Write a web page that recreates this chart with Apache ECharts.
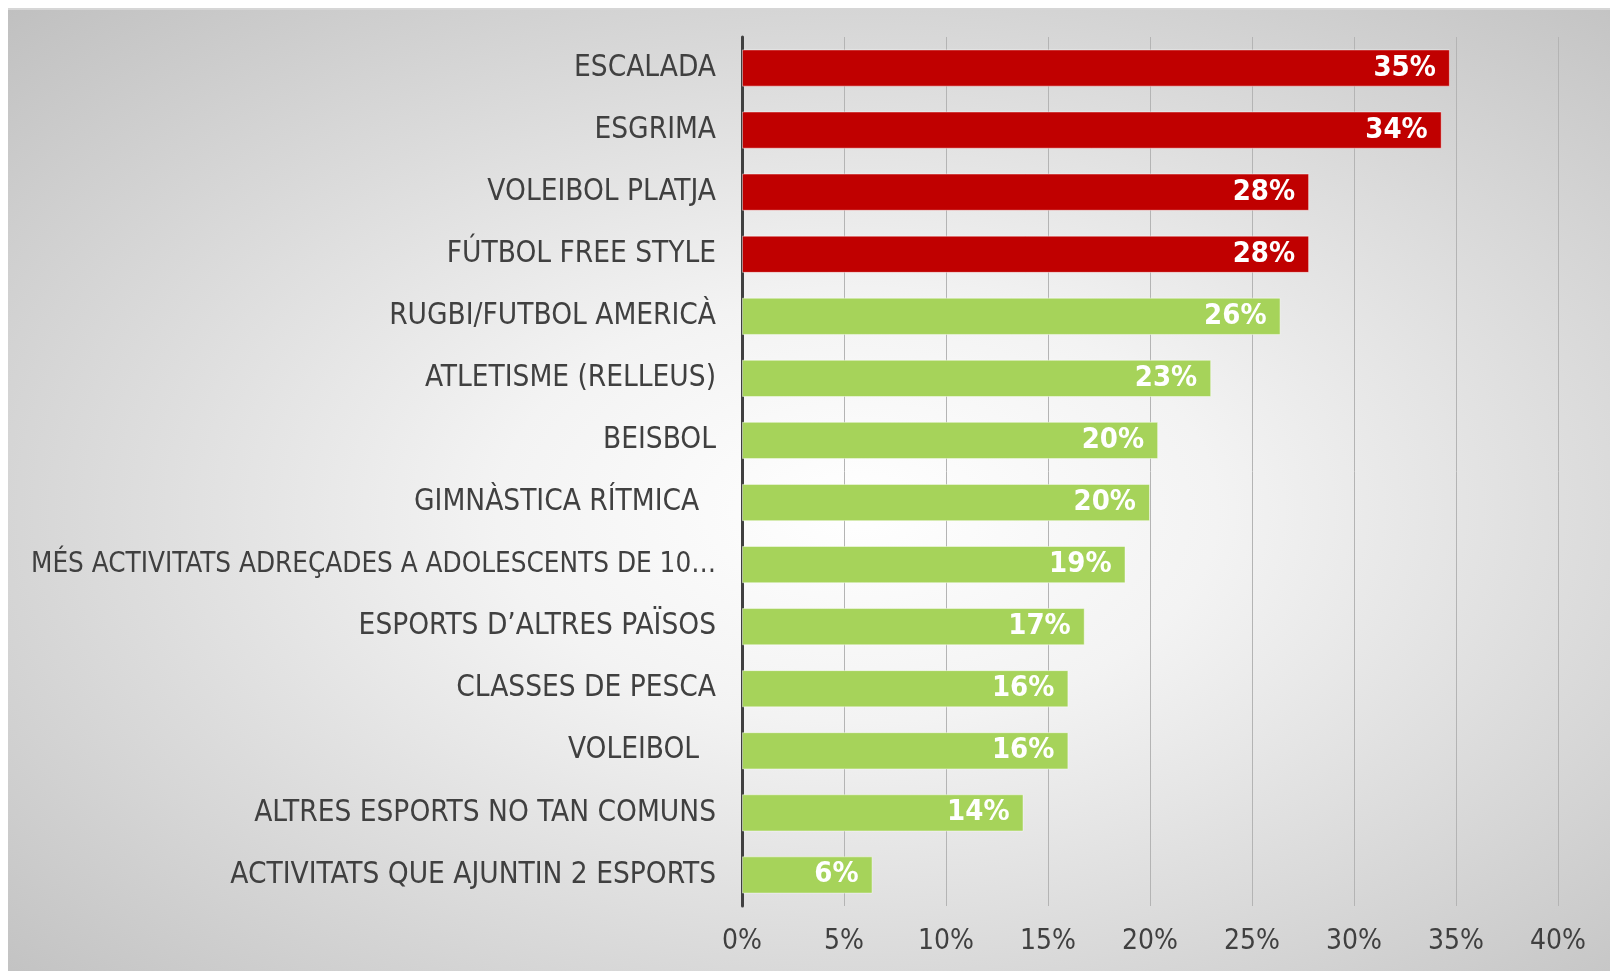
<!DOCTYPE html>
<html>
<head>
<meta charset="utf-8">
<script src="https://cdn.jsdelivr.net/npm/echarts@6/dist/echarts.min.js"></script>
<style>
    html, body { margin: 0; padding: 0; background: #fff; }
    #chart {
        position: absolute;
        left: 8px;
        top: 8px;
        width: 1602px;
        height: 963px;
        border-top: 2px solid #d6d6d6;
        box-sizing: border-box;
        background: radial-gradient(ellipse at 53% 52%, #ffffff 0%, #f3f3f3 30%, #c0c0c0 100%);
    }
</style>
</head>
<body>
<div id="chart"></div>
<script>
const categories = [
    'ESCALADA',
    'ESGRIMA',
    'VOLEIBOL PLATJA',
    'FÚTBOL FREE STYLE',
    'RUGBI/FUTBOL AMERICÀ',
    'ATLETISME (RELLEUS)',
    'BEISBOL',
    'GIMNÀSTICA RÍTMICA  ',
    'MÉS ACTIVITATS ADREÇADES A ADOLESCENTS DE 10…',
    'ESPORTS D’ALTRES PAÏSOS',
    'CLASSES DE PESCA',
    'VOLEIBOL  ',
    'ALTRES ESPORTS NO TAN COMUNS',
    'ACTIVITATS QUE AJUNTIN 2 ESPORTS'
];
const values = [34.7, 34.3, 27.8, 27.8, 26.4, 23.0, 20.4, 20.0, 18.8, 16.8, 16.0, 16.0, 13.8, 6.4];
const highlighted = 4; // first four bars in red
const xTicks = [0, 5, 10, 15, 20, 25, 30, 35, 40];

const labelFont = '"Liberation Sans Narrow", "DejaVu Sans Condensed", "Liberation Sans", sans-serif';

const myChart = echarts.init(document.getElementById('chart'));

const option = {
    backgroundColor: 'transparent',
    animation: false,
    grid: {
        left: 734,
        right: 52,
        top: 27,
        bottom: 65,
        containLabel: false,
        outerBoundsMode: 'none'
    },
    xAxis: {
        type: 'value',
        min: xTicks[0],
        max: xTicks[xTicks.length - 1],
        interval: xTicks[1] - xTicks[0],
        axisLine: { show: false },
        axisTick: { show: false },
        axisLabel: {
            formatter: '{value}%',
            fontFamily: labelFont,
            fontSize: 28,
            color: '#404040',
            margin: 22
        },
        splitLine: {
            lineStyle: { color: '#b4b4b4', width: 1 }
        }
    },
    yAxis: {
        type: 'category',
        inverse: true,
        data: categories,
        axisLine: {
            lineStyle: { color: '#404040', width: 3 }
        },
        axisTick: { show: false },
        axisLabel: {
            fontFamily: labelFont,
            fontSize: 29.5,
            color: '#404040',
            margin: 26,
            // the very long label is squeezed a little so it fits left of the axis
            formatter: function (v) {
                return v.length > 40 ? '{s|' + v + '}' : v;
            },
            rich: {
                s: {
                    fontFamily: labelFont,
                    fontSize: 27.6,
                    color: '#404040'
                }
            }
        }
    },
    series: [{
        type: 'bar',
        data: values,
        barCategoryGap: '40%',
        itemStyle: {
            color: function (p) {
                return p.dataIndex < highlighted ? '#c00000' : '#a6d35a';
            },
            borderColor: 'rgba(255,255,255,0.45)',
            borderWidth: 1
        },
        label: {
            show: true,
            position: 'insideRight',
            distance: 14,
            formatter: function (p) {
                return Math.round(p.value) + '%';
            },
            fontFamily: labelFont,
            fontWeight: 'bold',
            fontSize: 29,
            color: '#ffffff'
        }
    }]
};

myChart.setOption(option);
</script>
</body>
</html>
